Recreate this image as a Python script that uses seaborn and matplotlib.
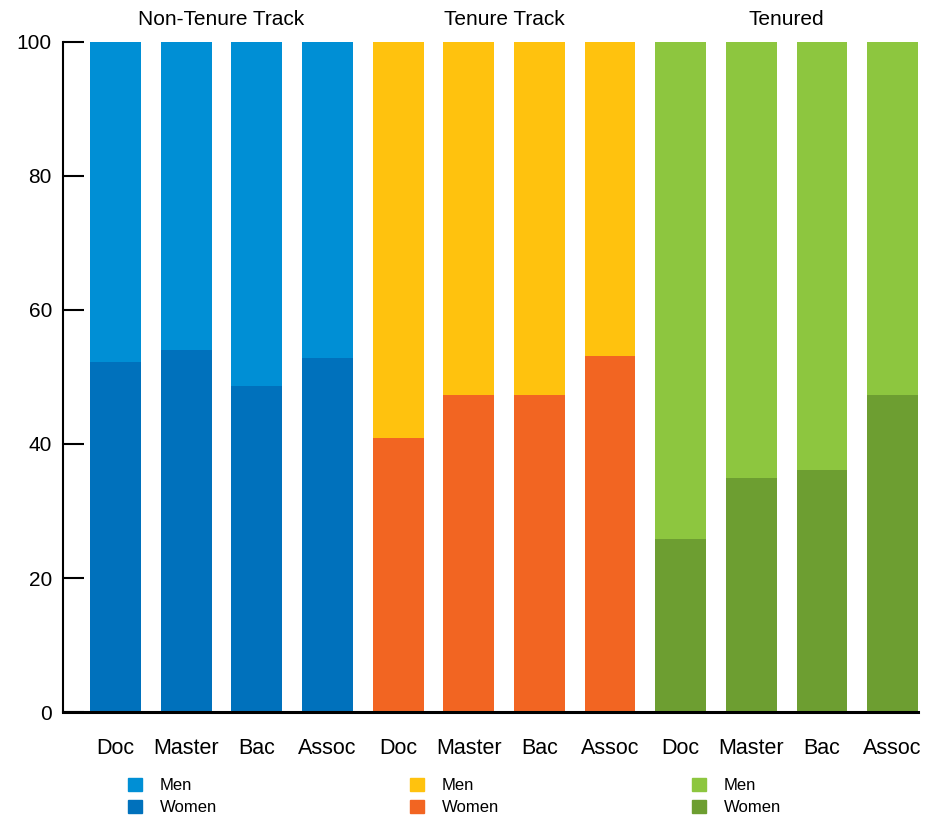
import matplotlib.pyplot as plt
import numpy as np
import pandas as pd
import seaborn as sns
from matplotlib.patches import Patch

groups = ["Non-Tenure Track", "Tenure Track", "Tenured"]
degrees = ["Doc", "Master", "Bac", "Assoc"]

# share of women (%) per degree
women_non_tenure = [52.2, 54.0, 48.7, 52.8]
women_tenure_track = [40.9, 47.3, 47.3, 53.1]
women_tenured = [25.8, 34.9, 36.1, 47.3]

men_colors = ["#008FD5", "#FFC20E", "#8DC63F"]
women_colors = ["#0071BC", "#F26522", "#6D9E31"]

women = [women_non_tenure, women_tenure_track, women_tenured]
rows = []
for g, vals in zip(groups, women):
    for d, w in zip(degrees, vals):
        rows.append({"group": g, "degree": d, "bar": f"{g} {d}", "women": w, "men": 100 - w})
df = pd.DataFrame(rows)
df["total"] = df["women"] + df["men"]
order = list(df["bar"])

men_pal = {b: men_colors[groups.index(g)] for b, g in zip(df["bar"], df["group"])}
women_pal = {b: women_colors[groups.index(g)] for b, g in zip(df["bar"], df["group"])}

plt.rcParams["font.family"] = ["Liberation Sans", "DejaVu Sans"]

fig = plt.figure(figsize=(9.35, 8.15), dpi=100)
ax = fig.add_axes([63 / 935, 103 / 815, (918 - 63) / 935, (712 - 42) / 815])

sns.barplot(data=df, x="bar", y="total", hue="bar", order=order, palette=men_pal,
            legend=False, width=0.72, saturation=1, ax=ax, errorbar=None)
sns.barplot(data=df, x="bar", y="women", hue="bar", order=order, palette=women_pal,
            legend=False, width=0.72, saturation=1, ax=ax, errorbar=None)

ax.set_xlim(-0.745, 11.36)
ax.set_ylim(0, 100)
ax.set_yticks([0, 20, 40, 60, 80, 100])
ax.set_xticks(range(len(order)))
ax.set_xticklabels(list(df["degree"]), fontsize=15.5)
ax.set_xlabel("")
ax.set_ylabel("")
ax.tick_params(axis="x", length=0, pad=19)
ax.tick_params(axis="y", direction="in", length=15, width=1.5, labelsize=15, pad=8)

for s in ["top", "right"]:
    ax.spines[s].set_visible(False)
ax.spines["left"].set_linewidth(1.5)
ax.spines["bottom"].set_linewidth(2.2)
ax.spines["bottom"].set_zorder(5)

for i, g in enumerate(groups):
    xc = i * len(degrees) + (len(degrees) - 1) / 2
    ax.text(xc, 1.0 + 22 / 670, g, transform=ax.get_xaxis_transform(),
            ha="center", va="center", fontsize=15)

legend_x = [120, 402, 684]
for i, g in enumerate(groups):
    handles = [Patch(color=men_colors[i], label="Men"),
               Patch(color=women_colors[i], label="Women")]
    leg = fig.legend(handles=handles, loc="upper left",
                     bbox_to_anchor=(legend_x[i] / 935, 1 - 770 / 815),
                     frameon=False, fontsize=12, handlelength=0.8, handleheight=0.8,
                     handletextpad=1.1, labelspacing=0.4, borderpad=0)

fig.savefig("out.png", dpi=100)
